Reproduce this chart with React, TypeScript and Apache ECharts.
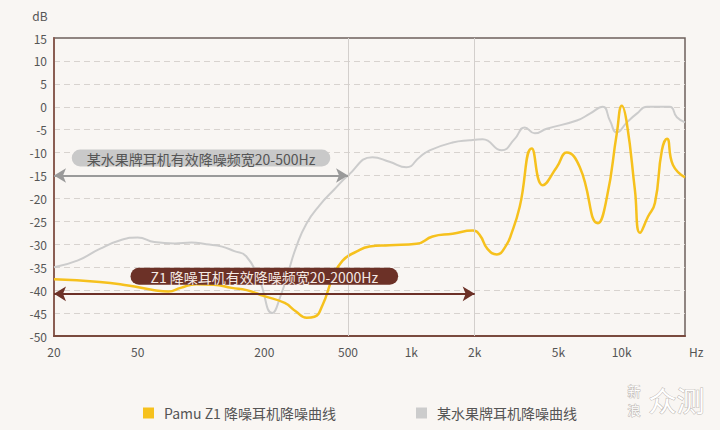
import React, { useEffect, useRef } from "react";
import * as echarts from "echarts";

const tickFreqs = [20, 50, 200, 500, 1000, 2000, 5000, 10000];
const tickLabels = ["20", "50", "200", "500", "1k", "2k", "5k", "10k"];

const grayName = "某水果牌耳机降噪曲线";
const grayFreq = [20, 26, 33, 42, 50, 60, 75, 90, 106, 126, 144, 164, 189, 218, 240, 260, 284, 317, 366, 431, 500, 653, 787, 948, 1094, 1222, 1570, 1892, 2183, 2690, 3100, 3460, 3860, 4400, 6120, 7060, 8130, 8790, 9480, 10590, 11800, 13180, 16900, 18300, 20000];
const grayDb = [-35, -33.5, -31, -29, -28.5, -29.5, -29.8, -29.6, -30, -30.5, -31.5, -32.6, -37.6, -45, -41, -36, -30.5, -25.5, -21.5, -18, -15, -11, -12, -13.2, -11, -9.5, -7.8, -7.3, -7.1, -9.5, -7, -4.5, -5.8, -4.8, -3, -1.5, 0, -3, -5.6, -3.4, -1.5, 0, 0, -2.3, -3.4];

const pamuName = "Pamu Z1 降噪耳机降噪曲线";
const pamuFreq = [20, 33, 45, 60, 70, 80, 95, 115, 140, 165, 200, 250, 282, 318, 346, 378, 421, 470, 548, 632, 787, 1058, 1262, 1571, 1956, 2115, 2300, 2550, 2800, 3000, 3275, 3735, 4215, 4910, 5480, 6325, 7710, 8510, 9480, 10020, 10590, 11560, 12220, 13330, 14390, 15530, 16420, 17530, 20000];
const pamuDb = [-37.6, -38.2, -39, -40, -40.3, -39.5, -38.7, -38.8, -39.5, -40, -41.3, -42.8, -44.6, -46, -45.8, -43.3, -37.5, -33.6, -31.6, -30.5, -30.2, -29.9, -28.3, -27.7, -27, -28, -31, -32.2, -30.5, -27.5, -21.8, -9.1, -17.1, -13.2, -10, -13.2, -25.4, -19.7, -5.8, 0.2, -3.7, -18.2, -27.5, -24, -21, -9.5, -7, -12.7, -15.4];

const grayBand = { from: 20, to: 500, db: -15, text: "某水果牌耳机有效降噪频宽20-500Hz" };
const pamuBand = { from: 20, to: 2000, db: -40.8, text: "Z1 降噪耳机有效降噪频宽20-2000Hz" };
const guideFreqs = [500, 2000];

const lg = (f: number) => Math.log10(f);
const FONT = "'Noto Sans CJK SC', 'Noto Sans', sans-serif";

export default function App() {
  const ref = useRef<HTMLDivElement>(null);
  useEffect(() => {
    if (!ref.current) return;
    const chart = echarts.init(ref.current, null, { renderer: "svg" });
    const customVals = tickFreqs.map(lg);
    const labelFor = (v: number) => {
      let best = 0;
      let bd = Infinity;
      customVals.forEach((c, i) => {
        const d = Math.abs(c - v);
        if (d < bd) { bd = d; best = i; }
      });
      return tickLabels[best];
    };
    const bandSeries = (name: string, band: any, color: string, bg: string, textColor: string, padX: number) => ({
      name,
      type: "line",
      data: [],
      z: 5,
      silent: true,
      markLine: {
        silent: true,
        animation: false,
        symbol: ["arrow", "arrow"],
        symbolSize: [11, 12],
        lineStyle: { color, width: 2, type: "solid" },
        label: {
          show: true,
          position: "insideMiddleTop",
          distance: 9,
          formatter: band.text,
          backgroundColor: bg,
          borderRadius: 9,
          padding: [2, padX, 1, padX],
          color: textColor,
          fontSize: 14,
          fontFamily: FONT,
        },
        emphasis: { disabled: true },
        data: [[{ coord: [lg(band.from), band.db] }, { coord: [lg(band.to), band.db] }]],
      },
    });
    chart.setOption({
      animation: false,
      backgroundColor: "#f9f6f3",
      textStyle: { fontFamily: FONT },
      grid: {
        left: 54,
        right: 35,
        top: 38,
        bottom: 94,
        show: true,
        backgroundColor: "#f9f6f3",
        borderColor: "#6d605c",
        borderWidth: 1.5,
      },
      legend: {
        data: [pamuName, grayName],
        left: "center",
        top: 401,
        icon: "rect",
        itemWidth: 11,
        itemHeight: 11,
        itemGap: 80,
        textStyle: { color: "#555", fontSize: 14, fontFamily: FONT, padding: [0, 0, 0, 5] },
      },
      xAxis: {
        type: "value",
        min: lg(20),
        max: lg(20000),
        name: "Hz",
        nameLocation: "end",
        nameGap: 4,
        nameTextStyle: { color: "#555", fontSize: 12, verticalAlign: "top", padding: [9, 0, 0, 0] },
        axisLine: { show: true, onZero: false, lineStyle: { color: "#7a4a3e", width: 2 } },
        axisTick: { show: false },
        splitLine: { show: false },
        axisLabel: {
          customValues: customVals,
          formatter: (v: number) => labelFor(v),
          color: "#555",
          fontSize: 12,
          margin: 9,
        },
      },
      yAxis: {
        type: "value",
        min: -50,
        max: 15,
        interval: 5,
        name: "dB",
        nameLocation: "end",
        nameGap: 17,
        nameTextStyle: { color: "#555", fontSize: 12, padding: [0, 28, 0, 0] },
        axisLine: { show: true, onZero: false, lineStyle: { color: "#8a5d52", width: 2 } },
        axisTick: { show: false },
        axisLabel: { color: "#555", fontSize: 12, margin: 7 },
        splitLine: {
          show: true,
          showMinLine: false,
          showMaxLine: false,
          lineStyle: { color: "#d8d3cf", type: [6, 4], width: 1 },
        },
      },
      graphic: [
        { type: "text", left: 627, top: 383, style: { text: "新", fontSize: 13, fill: "#ffffff", stroke: "#bdb7b2", lineWidth: 1, fontFamily: FONT } },
        { type: "text", left: 627, top: 402, style: { text: "浪", fontSize: 13, fill: "#ffffff", stroke: "#bdb7b2", lineWidth: 1, fontFamily: FONT } },
        { type: "text", left: 648, top: 385, style: { text: "众测", fontSize: 28, fill: "#ffffff", stroke: "#bdb7b2", lineWidth: 1, fontFamily: FONT } },
      ],
      series: [
        {
          name: pamuName,
          type: "line",
          data: pamuFreq.map((f, i) => [lg(f), pamuDb[i]]),
          showSymbol: false,
          smooth: 0.5,
          z: 3,
          itemStyle: { color: "#f6c11d" },
          lineStyle: { color: "#f6c11d", width: 2.5 },
          markLine: {
            silent: true,
            symbol: ["none", "none"],
            label: { show: false },
            lineStyle: { color: "#d3cfcc", width: 1, type: "solid" },
            emphasis: { disabled: true },
            data: guideFreqs.map((f) => ({ xAxis: lg(f) })),
          },
        },
        {
          name: grayName,
          type: "line",
          data: grayFreq.map((f, i) => [lg(f), grayDb[i]]),
          showSymbol: false,
          smooth: 0.5,
          z: 2,
          itemStyle: { color: "#cccccc" },
          lineStyle: { color: "#cccccc", width: 2 },
        },
        bandSeries("band-gray", grayBand, "#9a9a9a", "#c9c9c9", "#555555", 15),
        bandSeries("band-pamu", pamuBand, "#6c3127", "#6c3127", "#f4e9e4", 20),
      ],
    });
    return () => chart.dispose();
  }, []);
  return (
    <div
      ref={ref}
      style={{ position: "absolute", left: 0, top: 0, width: 720, height: 430, background: "#f9f6f3" }}
    />
  );
}
